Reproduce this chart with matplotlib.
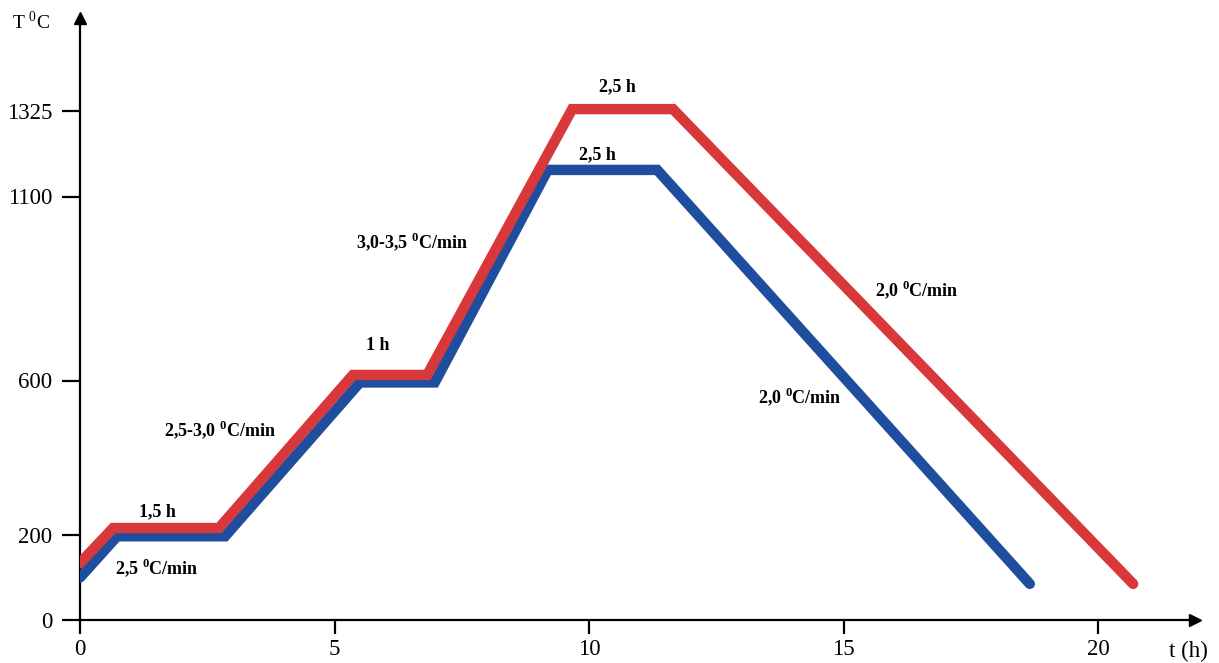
import numpy as np
import matplotlib.pyplot as plt

plt.rcParams['font.family'] = ['Liberation Serif', 'DejaVu Serif']
plt.rcParams['mathtext.fontset'] = 'custom'
plt.rcParams['mathtext.rm'] = 'Liberation Serif'
plt.rcParams['mathtext.bf'] = 'Liberation Serif:bold'

# firing schedules (time in h, temperature in C)
t_blue = [0.0, 0.73, 2.85, 5.5, 6.97, 9.19, 11.34, 18.66]
T_blue = [100, 197, 197, 595, 595, 1170, 1170, 85]
t_red = [0.0, 0.65, 2.73, 5.36, 6.82, 9.67, 11.65, 20.69]
T_red = [134, 218, 218, 615, 615, 1330, 1330, 85]

y_ticks = [0, 200, 600, 1100, 1325]
x_ticks = [0, 5, 10, 15, 20]

# the drawing is schematic: temperature axis is piecewise linear between the ticks
T_nodes = np.array([0, 200, 600, 1100, 1325, 1800])
P_nodes = np.array([0, 85, 239.5, 423.5, 509, 509 + 475 * 85.5 / 225])


def fwd(v):
    return np.interp(v, T_nodes, P_nodes)


def inv(v):
    return np.interp(v, P_nodes, T_nodes)


fig = plt.figure(figsize=(12.19, 6.63), dpi=100)
ax = fig.add_axes([80 / 1219, 43 / 663, 1115 / 1219, 602 / 663])
ax.set_yscale('function', functions=(fwd, inv))
ax.set_xlim(0, 1115 / 50.9)
ax.set_ylim(0, inv(602))

ax.plot(t_blue, T_blue, color='#1f4e9e', lw=7.5, solid_capstyle='round',
        solid_joinstyle='miter', zorder=3)
ax.plot(t_red, T_red, color='#d8383a', lw=7.5, solid_capstyle='round',
        solid_joinstyle='miter', zorder=4)

for s in ['top', 'right']:
    ax.spines[s].set_visible(False)
for s in ['left', 'bottom']:
    ax.spines[s].set_linewidth(1.6)
ax.set_xticks(x_ticks)
ax.set_yticks(y_ticks)
ax.set_xticklabels([str(v) for v in x_ticks])
ax.set_yticklabels([str(v) for v in y_ticks])
ax.tick_params(axis='y', length=13, width=1.6, labelsize=16.5, pad=7)
ax.tick_params(axis='x', length=10, width=1.6, labelsize=16.5, pad=4)
ax.minorticks_off()

# arrow heads
ax.plot([0], [1], marker='^', ms=9, color='black', transform=ax.transAxes, clip_on=False)
ax.plot([1], [0], marker='>', ms=9, color='black', transform=ax.transAxes, clip_on=False)

fig.text(31 / 1219, 1 - 22 / 663, r'T $^{0}$C', fontsize=14, ha='center', va='center')
fig.text(1188 / 1219, 1 - 651 / 663, 't (h)', fontsize=16.5, ha='center', va='center')

deg = r'$^{\mathbf{0}}$'
notes = [
    (1.53, 260, '1,5 h'),
    (1.51, 122, '2,5 ' + deg + 'C/min'),
    (2.75, 472, '2,5-3,0 ' + deg + 'C/min'),
    (5.85, 694, '1 h'),
    (6.53, 976, '3,0-3,5 ' + deg + 'C/min'),
    (10.55, 1388, '2,5 h'),
    (10.16, 1209, '2,5 h'),
    (16.44, 846, '2,0 ' + deg + 'C/min'),
    (14.15, 558, '2,0 ' + deg + 'C/min'),
]
for x, y, s in notes:
    ax.text(x, y, s, fontsize=13, fontweight='bold', ha='center', va='center')

plt.savefig('out.png', dpi=100)
